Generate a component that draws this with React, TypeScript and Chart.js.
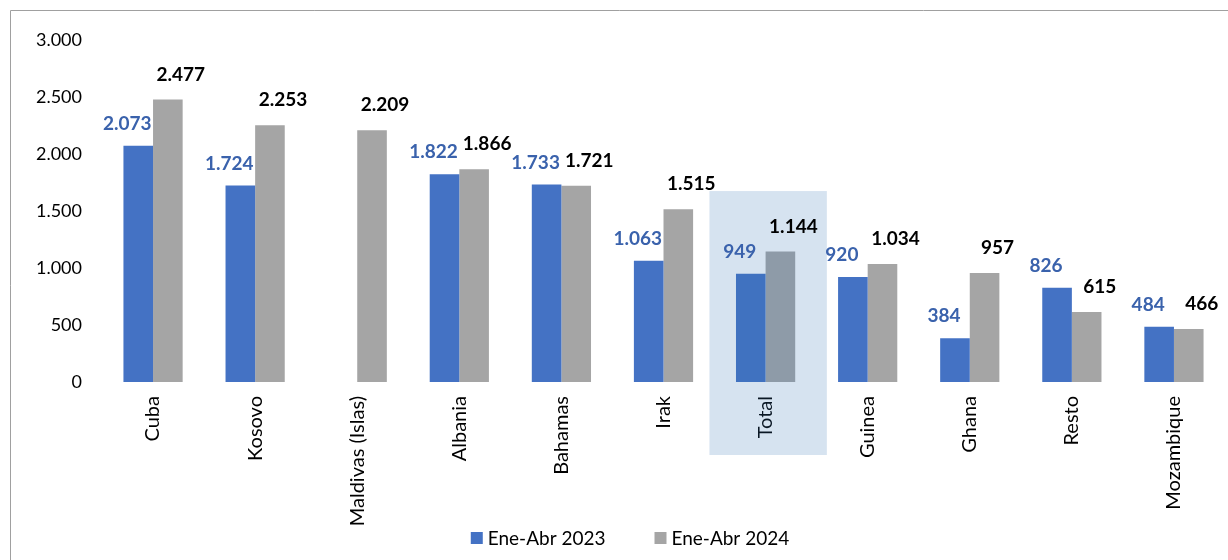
import React, { useEffect, useRef } from "react";
import { Chart, registerables } from "chart.js";

Chart.register(...registerables);

const categories = [
  "Cuba",
  "Kosovo",
  "Maldivas (Islas)",
  "Albania",
  "Bahamas",
  "Irak",
  "Total",
  "Guinea",
  "Ghana",
  "Resto",
  "Mozambique",
];
const seriesNames = ["Ene-Abr 2023", "Ene-Abr 2024"];
const values2023: (number | null)[] = [2073, 1724, null, 1822, 1733, 1063, 949, 920, 384, 826, 484];
const values2024: (number | null)[] = [2477, 2253, 2209, 1866, 1721, 1515, 1144, 1034, 957, 615, 466];
const yTickValues = [0, 500, 1000, 1500, 2000, 2500, 3000];
const highlightCategory = "Total";
const highlightTopValue = 1675;

const FONT = "Lato, 'Open Sans', sans-serif";
const BLUE = "#4472C4";
const GRAY = "#A5A5A5";
const BLUE_LABEL = "#3A62AC";

const fmt = (v: number) => String(Math.round(v)).replace(/\B(?=(\d{3})+(?!\d))/g, ".");

const framePlugin = {
  id: "frame",
  beforeDraw(chart: any) {
    const ctx = chart.ctx;
    ctx.save();
    ctx.strokeStyle = "#A0A0A0";
    ctx.lineWidth = 1;
    ctx.beginPath();
    ctx.moveTo(10.5, chart.height);
    ctx.lineTo(10.5, 10.5);
    ctx.lineTo(chart.width, 10.5);
    ctx.stroke();
    ctx.restore();
  },
};

const highlightPlugin = {
  id: "highlight",
  afterDatasetsDraw(chart: any) {
    const xs = chart.scales.x;
    const ys = chart.scales.y;
    const idx = categories.indexOf(highlightCategory);
    if (idx < 0) return;
    const cx = xs.getPixelForValue(idx);
    const w = xs.width / categories.length;
    const left = cx - 0.55 * w;
    const right = cx + 0.6 * w;
    const top = ys.getPixelForValue(highlightTopValue);
    const bottom = chart.chartArea.bottom + 73;
    const ctx = chart.ctx;
    ctx.save();
    ctx.fillStyle = "rgba(50,115,180,0.2)";
    ctx.fillRect(left, top, right - left, bottom - top);
    ctx.restore();
  },
};

const labelsPlugin = {
  id: "valueLabels",
  afterDraw(chart: any) {
    const ctx = chart.ctx;
    ctx.save();
    ctx.font = `bold 19px ${FONT}`;
    ctx.textAlign = "center";
    ctx.textBaseline = "middle";
    chart.data.datasets.forEach((ds: any, di: number) => {
      const meta = chart.getDatasetMeta(di);
      meta.data.forEach((bar: any, i: number) => {
        const v = ds.data[i];
        if (v === null || v === undefined) return;
        const dx = di === 0 ? -11 : 13;
        const dy = di === 0 ? 22 : 25;
        ctx.fillStyle = di === 0 ? BLUE_LABEL : "#000000";
        ctx.fillText(fmt(v), bar.x + dx, bar.y - dy);
      });
    });
    ctx.restore();
  },
};

const legendPlugin = {
  id: "customLegend",
  afterDraw(chart: any) {
    const ctx = chart.ctx;
    ctx.save();
    ctx.font = `19px ${FONT}`;
    ctx.textBaseline = "middle";
    ctx.textAlign = "left";
    const box = 12;
    const gap = 5;
    const spacing = 49;
    const items = chart.data.datasets.map((ds: any) => ({
      text: ds.label,
      color: ds.backgroundColor,
      w: box + gap + ctx.measureText(ds.label).width,
    }));
    const total = items.reduce((s: number, it: any) => s + it.w, 0) + spacing * (items.length - 1);
    let x = chart.width / 2 + 16 - total / 2;
    const y = 538;
    items.forEach((it: any) => {
      ctx.fillStyle = it.color;
      ctx.fillRect(x, y - box / 2, box, box);
      ctx.fillStyle = "#000";
      ctx.fillText(it.text, x + box + gap, y + 1);
      x += it.w + spacing;
    });
    ctx.restore();
  },
};

export default function App() {
  const ref = useRef<HTMLCanvasElement | null>(null);

  useEffect(() => {
    document.body.style.margin = "0";
    const canvas = ref.current;
    if (!canvas) return;
    const chart = new Chart(canvas, {
      type: "bar",
      data: {
        labels: categories,
        datasets: [
          {
            label: seriesNames[0],
            data: values2023,
            backgroundColor: BLUE,
            categoryPercentage: 0.58,
            barPercentage: 1.0,
          },
          {
            label: seriesNames[1],
            data: values2024,
            backgroundColor: GRAY,
            categoryPercentage: 0.58,
            barPercentage: 1.0,
          },
        ],
      },
      options: {
        responsive: false,
        animation: false,
        devicePixelRatio: 1,
        layout: { padding: { left: 31, right: 3, top: 40, bottom: 20 } },
        plugins: {
          legend: { display: false },
          tooltip: { enabled: false },
        },
        scales: {
          x: {
            grid: { display: false, drawTicks: false },
            border: { display: false },
            ticks: {
              autoSkip: false,
              maxRotation: 90,
              minRotation: 90,
              padding: 14,
              color: "#000",
              font: { family: FONT, size: 20 },
            },
            afterFit: (s: any) => {
              s.height = 158;
            },
          },
          y: {
            min: yTickValues[0],
            max: yTickValues[yTickValues.length - 1],
            grid: { display: false, drawTicks: false },
            border: { display: false },
            afterBuildTicks: (s: any) => {
              s.ticks = yTickValues.map((v) => ({ value: v }));
            },
            ticks: {
              padding: 20,
              color: "#000",
              font: { family: FONT, size: 18 },
              callback: (v: any) => fmt(Number(v)),
            },
            afterFit: (s: any) => {
              s.width = 71;
            },
          },
        },
      },
      plugins: [framePlugin, highlightPlugin, labelsPlugin, legendPlugin],
    });
    return () => chart.destroy();
  }, []);

  return (
    <div style={{ position: "absolute", left: 0, top: 0, width: 1228, height: 560, background: "#fff" }}>
      <canvas ref={ref} width={1228} height={560} style={{ width: 1228, height: 560, display: "block" }} />
    </div>
  );
}
